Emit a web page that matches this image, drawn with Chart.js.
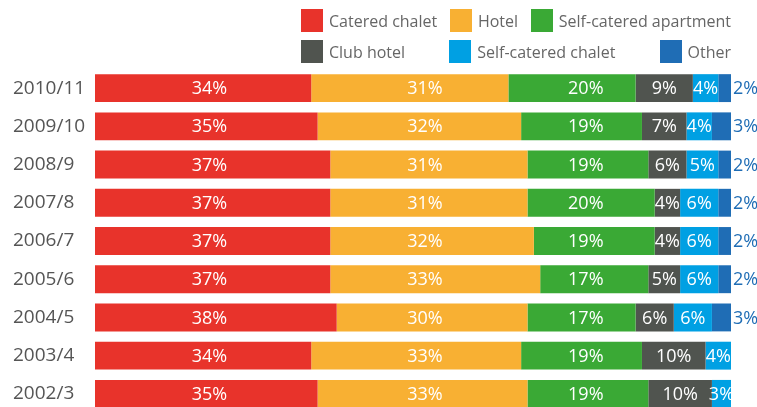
<!DOCTYPE html>
<html lang="en">
<head>
  <meta charset="UTF-8">
  <title>Accommodation type by season</title>
  <script src="https://cdn.jsdelivr.net/npm/chart.js"></script>
  <style>
    html, body { margin: 0; padding: 0; background: #fff; overflow: hidden; }
    #wrap { position: relative; width: 757px; height: 414px; }
    #legenda { position: absolute; left: 301px; top: 9px; width: 430px; font: 16px "Open Sans", sans-serif; color: #666; }
    .linha { display: flex; justify-content: space-between; height: 23px; margin-bottom: 8px; }
    .item { display: flex; align-items: center; white-space: nowrap; }
    .caixa { width: 22px; height: 23px; margin-right: 6px; }
  </style>
</head>
<body>
  <div id="wrap">
    <canvas id="barras"></canvas>
    <div id="legenda"></div>
  </div>
<script>
  // temporadas (de cima para baixo)
  const temporadas = ['2010/11', '2009/10', '2008/9', '2007/8', '2006/7', '2005/6', '2004/5', '2003/4', '2002/3'];

  // porcentagens por tipo de acomodacao
  const cateredChalet = [34, 35, 37, 37, 37, 37, 38, 34, 35];
  const hotel = [31, 32, 31, 31, 32, 33, 30, 33, 33];
  const selfCateredApartment = [20, 19, 19, 20, 19, 17, 17, 19, 19];
  const clubHotel = [9, 7, 6, 4, 4, 5, 6, 10, 10];
  const selfCateredChalet = [4, 4, 5, 6, 6, 6, 6, 4, 3];
  const other = [2, 3, 2, 2, 2, 2, 3, 0, 0];

  const series = [
    { nome: 'Catered chalet', dados: cateredChalet, cor: '#e8332b' },
    { nome: 'Hotel', dados: hotel, cor: '#f8b033' },
    { nome: 'Self-catered apartment', dados: selfCateredApartment, cor: '#3aa935' },
    { nome: 'Club hotel', dados: clubHotel, cor: '#50544f' },
    { nome: 'Self-catered chalet', dados: selfCateredChalet, cor: '#00a0e3' },
    { nome: 'Other', dados: other, cor: '#1f6db5' }
  ];

  // nas tres primeiras series os rotulos ficam alinhados em coluna (centro medio)
  const seriesEmColuna = [0, 1, 2];

  // legenda em duas linhas (ordem igual ao original)
  const ordemLegenda = [[0, 1, 2], [3, 4, 5]];
  const legenda = document.getElementById('legenda');
  ordemLegenda.forEach(function (linha) {
    const div = document.createElement('div');
    div.className = 'linha';
    linha.forEach(function (i) {
      div.innerHTML += '<span class="item"><span class="caixa" style="background:' + series[i].cor + '"></span>' + series[i].nome + '</span>';
    });
    legenda.appendChild(div);
  });

  // centro medio de cada serie, em %
  function centroMedio(di) {
    let soma = 0;
    for (let i = 0; i < temporadas.length; i++) {
      let inicio = 0;
      for (let k = 0; k < di; k++) inicio += series[k].dados[i];
      soma += inicio + series[di].dados[i] / 2;
    }
    return soma / temporadas.length;
  }

  // plugin simples para escrever as porcentagens
  const rotulos = {
    id: 'rotulos',
    afterDatasetsDraw(chart) {
      const ctx = chart.ctx;
      const escalaX = chart.scales.x;
      ctx.save();
      ctx.font = '18px "Open Sans", sans-serif';
      ctx.textBaseline = 'middle';
      chart.data.datasets.forEach(function (ds, di) {
        const meta = chart.getDatasetMeta(di);
        const emColuna = seriesEmColuna.indexOf(di) >= 0;
        const xColuna = emColuna ? escalaX.getPixelForValue(centroMedio(di)) : 0;
        meta.data.forEach(function (bar, i) {
          const v = ds.data[i];
          if (!v) return;
          const texto = v + '%';
          if (di === chart.data.datasets.length - 1) {
            ctx.fillStyle = ds.backgroundColor;
            ctx.textAlign = 'left';
            ctx.fillText(texto, bar.x + 2, bar.y + 1);
          } else {
            ctx.fillStyle = '#fff';
            ctx.textAlign = 'center';
            ctx.fillText(texto, emColuna ? xColuna : (bar.x + bar.base) / 2, bar.y + 1);
          }
        });
      });
      ctx.restore();
    }
  };

  new Chart(document.getElementById('barras').getContext('2d'), {
    type: 'bar',
    data: {
      labels: temporadas,
      datasets: series.map(function (s) {
        return {
          label: s.nome,
          data: s.dados,
          backgroundColor: s.cor,
          borderWidth: 0,
          barPercentage: 0.73,
          categoryPercentage: 1
        };
      })
    },
    options: {
      indexAxis: 'y',
      responsive: true,
      maintainAspectRatio: false,
      animation: false,
      layout: { padding: { left: 13, right: 26, top: 69, bottom: 1 } },
      plugins: {
        legend: { display: false },
        tooltip: { enabled: false }
      },
      scales: {
        x: { stacked: true, min: 0, max: 100, display: false },
        y: {
          stacked: true,
          grid: { display: false },
          border: { display: false },
          ticks: {
            crossAlign: 'far',
            color: '#555',
            font: { family: '"Open Sans", sans-serif', size: 19 }
          },
          afterFit(axis) {
            axis.width = 82;
            // sem folga extra para os rotulos nas pontas
            axis.paddingTop = 0;
            axis.paddingBottom = 0;
          }
        }
      }
    },
    plugins: [rotulos]
  });
</script>
</body>
</html>
